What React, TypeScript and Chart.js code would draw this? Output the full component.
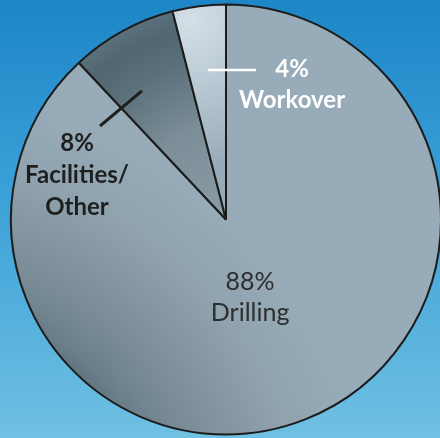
import React, { useEffect, useRef } from "react";
import { Chart, registerables } from "chart.js";

Chart.register(...registerables);

const categories = ["Drilling", "Facilities/Other", "Workover"];
const shares = [88, 8, 4];
const nameLines = [["Drilling"], ["Facilities/", "Other"], ["Workover"]];

// label styling / placement (fractions of radius, relative to pie centre)
const labelStyle = [
  { font: "25px Lato", color: "#2e2e2e", ax: 0.112, ay: 0.363, lh: 31, leader: null as null | number[], leaderColor: "", leaderWidth: 0 },
  { font: "bold 24px Lato", color: "#1f1f1f", ax: -0.693, ay: -0.207, lh: 32, leader: [-0.391, -0.598, -0.586, -0.435], leaderColor: "#1f1f1f", leaderWidth: 3 },
  { font: "bold 24px Lato", color: "#ffffff", ax: 0.307, ay: -0.628, lh: 31, leader: [-0.084, -0.695, 0.14, -0.695], leaderColor: "#ffffff", leaderWidth: 2.5 },
];

const PIE_RADIUS = 215;

export default function App() {
  const ref = useRef<HTMLCanvasElement>(null);

  useEffect(() => {
    const canvas = ref.current;
    if (!canvas) return;

    const fill = (c: any) => {
      const chart = c.chart;
      const { ctx, chartArea } = chart;
      if (!chartArea) return "#95a9b6";
      const cx = (chartArea.left + chartArea.right) / 2;
      const cy = (chartArea.top + chartArea.bottom) / 2;
      const r = PIE_RADIUS;
      if (c.dataIndex === 0) {
        const fx = cx - 1.5 * r;
        const fy = cy + 1.58 * r;
        const g = ctx.createRadialGradient(fx, fy, 0, fx, fy, 2.35 * r);
        g.addColorStop(0, "#5a6f7a");
        g.addColorStop(0.49, "#5c717c");
        g.addColorStop(0.53, "#6a7e89");
        g.addColorStop(0.6, "#788b95");
        g.addColorStop(0.71, "#8698a3");
        g.addColorStop(0.8, "#90a3af");
        g.addColorStop(0.92, "#96aab7");
        g.addColorStop(1, "#97abb8");
        return g;
      }
      if (c.dataIndex === 1) {
        const g = ctx.createRadialGradient(cx, cy, 0, cx, cy, r);
        g.addColorStop(0, "#8b9ca6");
        g.addColorStop(0.45, "#7b8d97");
        g.addColorStop(0.75, "#5a707a");
        g.addColorStop(0.9, "#506670");
        g.addColorStop(1, "#5a707a");
        return g;
      }
      const fx = cx - 0.167 * r;
      const fy = cy - 0.928 * r;
      const g = ctx.createRadialGradient(fx, fy, 0, fx, fy, 0.7 * r);
      g.addColorStop(0, "#d4dfe7");
      g.addColorStop(0.5, "#b6c6d1");
      g.addColorStop(1, "#96aab7");
      return g;
    };

    const labelPlugin = {
      id: "sliceLabels",
      afterDraw(chart: any) {
        const meta = chart.getDatasetMeta(0);
        const arc = meta.data[0];
        if (!arc) return;
        const cx = arc.x;
        const cy = arc.y;
        const r = arc.outerRadius;
        const ctx = chart.ctx;
        ctx.save();
        shares.forEach((v, i) => {
          const st = labelStyle[i];
          if (st.leader) {
            const [x1, y1, x2, y2] = st.leader;
            ctx.beginPath();
            ctx.moveTo(cx + x1 * r, cy + y1 * r);
            ctx.lineTo(cx + x2 * r, cy + y2 * r);
            ctx.strokeStyle = st.leaderColor;
            ctx.lineWidth = st.leaderWidth;
            ctx.lineCap = "butt";
            ctx.stroke();
          }
          const lines = [`${v}%`, ...nameLines[i]];
          ctx.font = st.font;
          ctx.fillStyle = st.color;
          ctx.textAlign = "center";
          ctx.textBaseline = "middle";
          const ax = cx + st.ax * r;
          const ay = cy + st.ay * r;
          lines.forEach((t, k) => {
            ctx.fillText(t, ax, ay + (k - (lines.length - 1) / 2) * st.lh);
          });
        });
        ctx.restore();
      },
    };

    const chart = new Chart(canvas, {
      type: "pie",
      data: {
        labels: categories,
        datasets: [
          {
            data: shares,
            backgroundColor: fill as any,
            borderColor: "#1c1c1c",
            borderWidth: 2,
            radius: PIE_RADIUS,
          } as any,
        ],
      },
      options: {
        responsive: false,
        maintainAspectRatio: false,
        animation: false,
        layout: { padding: 0 },
        plugins: {
          legend: { display: false },
          tooltip: { enabled: false },
        },
      },
      plugins: [labelPlugin],
    });

    return () => chart.destroy();
  }, []);

  return (
    <div
      style={{
        position: "absolute",
        left: 0,
        top: 0,
        width: 440,
        height: 438,
        overflow: "hidden",
        background: "linear-gradient(to bottom, #1d86c7 0%, #3ba1d8 45%, #70c0e2 100%)",
      }}
    >
      <canvas ref={ref} width={452} height={439} style={{ width: 452, height: 439, display: "block" }} />
    </div>
  );
}
